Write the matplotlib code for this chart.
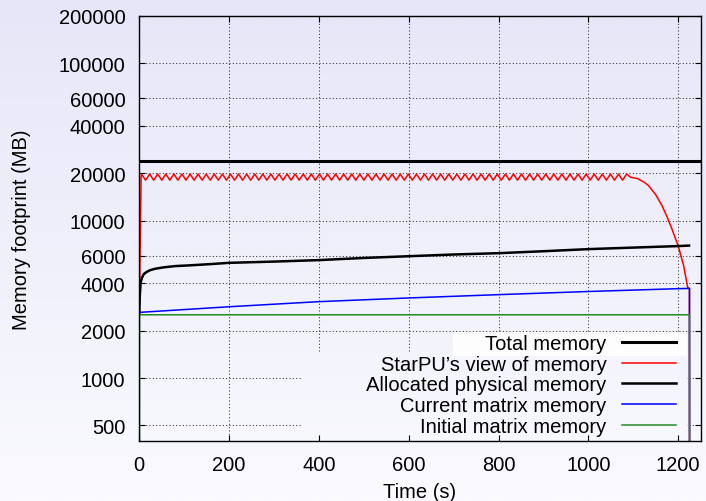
import numpy as np
import matplotlib
matplotlib.use('Agg')
import matplotlib.pyplot as plt
from matplotlib.colors import LinearSegmentedColormap
from matplotlib.patches import Rectangle
from matplotlib.ticker import NullLocator

plt.rcParams['font.family'] = ['Liberation Sans', 'DejaVu Sans']

# --- data (time in s, memory in MB) ---
total_t = [0, 1250]
total_v = [24000, 24000]

red_t = [0, 4,
         5, 14, 23, 32, 41, 50, 59, 68, 77, 86,
         95, 104, 113, 122, 131, 140, 149, 158, 167, 176,
         185, 194, 203, 212, 221, 230, 239, 248, 257, 266,
         275, 284, 293, 302, 311, 320, 329, 338, 347, 356,
         365, 374, 383, 392, 401, 410, 419, 428, 437, 446,
         455, 464, 473, 482, 491, 500, 509, 518, 527, 536,
         545, 554, 563, 572, 581, 590, 599, 608, 617, 626,
         635, 644, 653, 662, 671, 680, 689, 698, 707, 716,
         725, 734, 743, 752, 761, 770, 779, 788, 797, 806,
         815, 824, 833, 842, 851, 860, 869, 878, 887, 896,
         905, 914, 923, 932, 941, 950, 959, 968, 977, 986,
         995, 1004, 1013, 1022, 1031, 1040, 1049, 1058, 1067, 1076,
         1085,
         1094, 1110, 1125, 1134, 1150, 1164, 1175, 1186, 1200, 1212,
         1221, 1225, 1225.5]
red_v = [2600, 19000,
         19800, 18100, 19800, 18100, 19800, 18100, 19800, 18100, 19800, 18100,
         19800, 18100, 19800, 18100, 19800, 18100, 19800, 18100, 19800, 18100,
         19800, 18100, 19800, 18100, 19800, 18100, 19800, 18100, 19800, 18100,
         19800, 18100, 19800, 18100, 19800, 18100, 19800, 18100, 19800, 18100,
         19800, 18100, 19800, 18100, 19800, 18100, 19800, 18100, 19800, 18100,
         19800, 18100, 19800, 18100, 19800, 18100, 19800, 18100, 19800, 18100,
         19800, 18100, 19800, 18100, 19800, 18100, 19800, 18100, 19800, 18100,
         19800, 18100, 19800, 18100, 19800, 18100, 19800, 18100, 19800, 18100,
         19800, 18100, 19800, 18100, 19800, 18100, 19800, 18100, 19800, 18100,
         19800, 18100, 19800, 18100, 19800, 18100, 19800, 18100, 19800, 18100,
         19800, 18100, 19800, 18100, 19800, 18100, 19800, 18100, 19800, 18100,
         19800, 18100, 19800, 18100, 19800, 18100, 19800, 18100, 19800, 18100,
         19800,
         18900, 18500, 17500, 16700, 14600, 12450, 10600, 8850, 6900, 5180,
         3770, 3700, 1]

alloc_t = [0, 1, 3, 6, 10, 16, 24, 35, 53, 80, 110, 158, 200, 300, 400,
           500, 600, 700, 800, 900, 1000, 1100, 1200, 1224]
alloc_v = [2600, 3300, 4050, 4350, 4580, 4720, 4850, 4950, 5050, 5150, 5200,
           5300, 5400, 5500, 5620, 5800, 5950, 6100, 6220, 6400, 6600, 6750,
           6900, 6950]

cur_t = [0, 200, 400, 600, 800, 1000, 1200, 1225, 1225.5]
cur_v = [2615, 2840, 3060, 3230, 3390, 3550, 3700, 3715, 1]

init_t = [0, 0.5, 1225, 1225.5]
init_v = [1, 2525, 2525, 1]

yticks = [500, 1000, 2000, 4000, 6000, 10000, 20000, 40000, 60000, 100000, 200000]
xticks = [0, 200, 400, 600, 800, 1000, 1200]

W, H = 706, 502
fig = plt.figure(figsize=(W / 100, H / 100), dpi=100)

# background gradient (lavender -> almost white)
bg_cmap = LinearSegmentedColormap.from_list('bg', ['#e6e6f8', '#fafaff'])
grad = np.linspace(0, 1, 256).reshape(-1, 1)
bg = fig.add_axes([0, 0, 1, 1], zorder=0)
bg.imshow(grad, cmap=bg_cmap, aspect='auto', extent=[0, 1, 0, 1])
bg.axis('off')

pos = [139.3 / W, (H - 441.7) / H, 561.4 / W, 424.7 / H]

# grid only
gax = fig.add_axes(pos, zorder=1)
gax.set_facecolor('none')
gax.set_yscale('log')
gax.set_xlim(0, 1250)
gax.set_ylim(400, 200000)
gax.set_xticks(xticks)
gax.set_yticks(yticks)
gax.yaxis.set_minor_locator(NullLocator())
gax.tick_params(length=0, labelbottom=False, labelleft=False)
gax.grid(True, color='#333333', linewidth=0.75, linestyle=(0, (1, 2.2)))
for s in gax.spines.values():
    s.set_visible(False)

# key background covering the grid
cover = fig.add_axes([0, 0, 1, 1], zorder=2)
cover.set_facecolor('none')
im = cover.imshow(grad, cmap=bg_cmap, aspect='auto', extent=[0, 1, 0, 1])
clip = Rectangle((302 / W, (H - 442) / H), 385 / W, 89 / H, transform=cover.transAxes)
im.set_clip_path(clip)
cover.add_patch(Rectangle((453 / W, (H - 357) / H), 234 / W, 24 / H,
                          transform=cover.transAxes, facecolor='white',
                          edgecolor='none', alpha=0.9))
cover.set_xlim(0, 1)
cover.set_ylim(0, 1)
cover.axis('off')

# main plot
ax = fig.add_axes(pos, zorder=3)
ax.set_facecolor('none')
ax.plot(total_t, total_v, color='black', lw=2.2, label='Total memory')
ax.plot(red_t, red_v, color='red', lw=1.1, label='StarPU\u2019s view of memory')
ax.plot(alloc_t, alloc_v, color='black', lw=1.8, label='Allocated physical memory')
ax.plot(cur_t, cur_v, color='blue', lw=1.1, label='Current matrix memory')
ax.plot(init_t, init_v, color='#228b22', lw=1.1, label='Initial matrix memory')

ax.set_yscale('log')
ax.set_xlim(0, 1250)
ax.set_ylim(400, 200000)
ax.set_xticks(xticks)
ax.set_xticklabels([str(x) for x in xticks])
ax.set_yticks(yticks)
ax.set_yticklabels([str(y) for y in yticks])
ax.yaxis.set_minor_locator(NullLocator())
ax.tick_params(direction='in', top=True, right=True, length=4.5, width=0.8,
               labelsize=14.5, pad=10)
for s in ax.spines.values():
    s.set_linewidth(1.0)

ax.set_xlabel('Time (s)', fontsize=14.5, labelpad=6)
ax.set_ylabel('Memory footprint (MB)', fontsize=14.5, labelpad=20)

ax.legend(loc='lower right', bbox_to_anchor=(0.956, 0.012), frameon=False,
          markerfirst=False, fontsize=14.5, handlelength=2.7, handletextpad=0.75,
          labelspacing=0.08, borderpad=0, borderaxespad=0)

fig.savefig('out.png', dpi=100)
